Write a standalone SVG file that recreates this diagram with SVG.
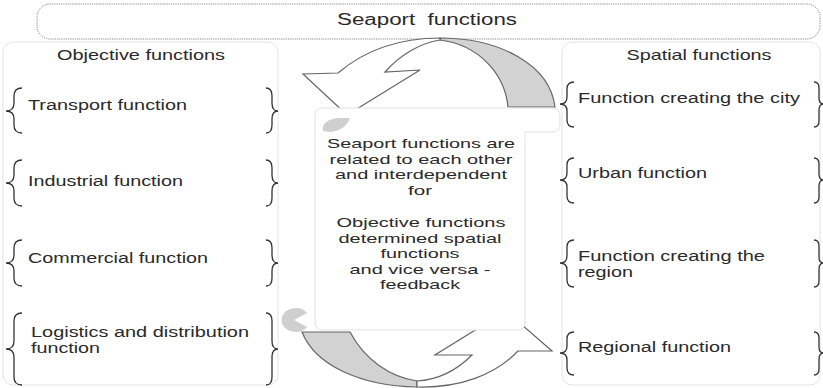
<svg xmlns="http://www.w3.org/2000/svg" width="823" height="388" viewBox="0 0 823 388">
<style>
text{font-family:"Liberation Sans",Arial,sans-serif;fill:#2a2a2a;}
.t16{font-size:16px;}
.t15{font-size:15px;}
.it{font-size:13.8px;}
.ct{font-size:13.2px;text-anchor:middle;}
.mid{text-anchor:middle;}
.br{fill:none;stroke:#333;stroke-width:1.3;}
.panel{fill:#fff;stroke:#e4e4e4;stroke-width:1;}
.arw{stroke:#666;stroke-width:1.2;stroke-linejoin:miter;}
.white{fill:#fff;}
.gray{fill:#d2d2d2;}
</style>
<rect width="823" height="388" fill="#fff"/>

<g id="top">
<rect x="37" y="4" width="783" height="35" rx="13" fill="#fff" stroke="#8a8a8a" stroke-width="1" stroke-dasharray="1.2,1"/>
<text class="t16 mid" x="427" y="25" textLength="180" lengthAdjust="spacingAndGlyphs" style="white-space:pre">Seaport  functions</text>
</g>

<g id="objective">
<rect class="panel" x="3" y="42" width="275" height="343" rx="10"/>
<text class="t15 mid" x="141" y="60" textLength="168" lengthAdjust="spacingAndGlyphs">Objective functions</text>
</g>

<g id="spatial">
<rect class="panel" x="562" y="42" width="258" height="343" rx="10"/>
<text class="t15 mid" x="699" y="60" textLength="145" lengthAdjust="spacingAndGlyphs">Spatial functions</text>
</g>

<g id="connectors">
<path class="arw gray" d="M440,38 C500,38 550,65 555,107 L508,107 C505,75 480,45 440,40 Z"/>
<path class="arw white" d="M440,38 C400,38 365,50 338,73 L303,74 L347,115 L420,70 L385,72 C400,55 420,43 440,40 Z"/>
<path class="arw gray" d="M302,332 C315,365 360,386 417,387 L417,381 C390,377 365,360 350,332 Z"/>
<path class="arw white" d="M506,311 L435,355 L472,355 C455,372 435,380 417,381 L417,387 C460,388 495,375 518,351 L552,351 Z"/>
</g>

<g id="center">
<path d="M294,320 L307,313 A14 12 0 1 0 307,327 Z" fill="#cfcfcf"/>
<path d="M323,108 H552 Q560,108 560,116 V124 Q560,132 552,132 H525 V322 Q525,330 517,330 H323 Q315,330 315,322 V116 Q315,108 323,108 Z" fill="#fff" stroke="#e2e2e2" stroke-width="1"/>
<path d="M323,131 C321,123 330,118 340,118 L350,118 C347,126 340,131 330,132 Z" fill="#cfcfcf"/>
<text class="ct" x="421" y="148" textLength="188" lengthAdjust="spacingAndGlyphs">Seaport functions are</text>
<text class="ct" x="421" y="163.5" textLength="183" lengthAdjust="spacingAndGlyphs">related to each other</text>
<text class="ct" x="421" y="179" textLength="172" lengthAdjust="spacingAndGlyphs">and interdependent</text>
<text class="ct" x="420" y="194.5" textLength="24" lengthAdjust="spacingAndGlyphs">for</text>
<text class="ct" x="421" y="227" textLength="169" lengthAdjust="spacingAndGlyphs">Objective functions</text>
<text class="ct" x="420" y="242.5" textLength="163" lengthAdjust="spacingAndGlyphs">determined spatial</text>
<text class="ct" x="420" y="258" textLength="79" lengthAdjust="spacingAndGlyphs">functions</text>
<text class="ct" x="420" y="273.5" textLength="141" lengthAdjust="spacingAndGlyphs">and vice versa -</text>
<text class="ct" x="420" y="289" textLength="80" lengthAdjust="spacingAndGlyphs">feedback</text>
</g>

<g id="transport">
<path class="br" d="M22,88 Q14,88 14,96 V103 Q14,111 6,111 Q14,111 14,119 V125 Q14,133 22,133"/>
<path class="br" d="M266,88 Q272,88 272,96 V103 Q272,111 278,111 Q272,111 272,119 V125 Q272,133 266,133"/>
<text class="it" x="28" y="110" textLength="159" lengthAdjust="spacingAndGlyphs">Transport function</text>
</g>
<g id="industrial">
<path class="br" d="M22,160 Q14,160 14,168 V175 Q14,183 6,183 Q14,183 14,191 V198 Q14,206 22,206"/>
<path class="br" d="M266,160 Q272,160 272,168 V175 Q272,183 278,183 Q272,183 272,191 V198 Q272,206 266,206"/>
<text class="it" x="28" y="186" textLength="155" lengthAdjust="spacingAndGlyphs">Industrial function</text>
</g>
<g id="commercial">
<path class="br" d="M22,240 Q14,240 14,248 V255 Q14,263 6,263 Q14,263 14,271 V278 Q14,286 22,286"/>
<path class="br" d="M266,240 Q272,240 272,248 V255 Q272,263 278,263 Q272,263 272,271 V278 Q272,286 266,286"/>
<text class="it" x="28" y="263" textLength="180" lengthAdjust="spacingAndGlyphs">Commercial function</text>
</g>
<g id="logistics">
<path class="br" d="M22,313 Q14,313 14,321 V341 Q14,349 6,349 Q14,349 14,357 V377 Q14,385 22,385"/>
<path class="br" d="M266,313 Q272,313 272,321 V341 Q272,349 278,349 Q272,349 272,357 V377 Q272,385 266,385"/>
<text class="it" x="31" y="337" textLength="218" lengthAdjust="spacingAndGlyphs">Logistics and distribution</text>
<text class="it" x="31" y="353" textLength="69" lengthAdjust="spacingAndGlyphs">function</text>
</g>

<g id="city">
<path class="br" d="M574,82 Q567,82 567,89 V97 Q567,104 560,104 Q567,104 567,111 V120 Q567,127 574,127"/>
<path class="br" d="M814,82 Q819,82 819,88 V98 Q819,104 824,104 Q819,104 819,110 V121 Q819,127 814,127"/>
<text class="it" x="578" y="103" textLength="222" lengthAdjust="spacingAndGlyphs">Function creating the city</text>
</g>
<g id="urban">
<path class="br" d="M574,158 Q567,158 567,165 V173 Q567,180 560,180 Q567,180 567,187 V196 Q567,203 574,203"/>
<path class="br" d="M814,158 Q819,158 819,164 V174 Q819,180 824,180 Q819,180 819,186 V197 Q819,203 814,203"/>
<text class="it" x="578" y="178" textLength="129" lengthAdjust="spacingAndGlyphs">Urban function</text>
</g>
<g id="region">
<path class="br" d="M574,240 Q567,240 567,247 V256 Q567,263 560,263 Q567,263 567,270 V280 Q567,287 574,287"/>
<path class="br" d="M814,240 Q819,240 819,246 V257 Q819,263 824,263 Q819,263 819,269 V281 Q819,287 814,287"/>
<text class="it" x="578" y="261" textLength="187" lengthAdjust="spacingAndGlyphs">Function creating the</text>
<text class="it" x="578" y="277" textLength="55" lengthAdjust="spacingAndGlyphs">region</text>
</g>
<g id="regional">
<path class="br" d="M574,332 Q567,332 567,339 V346 Q567,353 560,353 Q567,353 567,360 V368 Q567,375 574,375"/>
<path class="br" d="M814,332 Q819,332 819,338 V347 Q819,353 824,353 Q819,353 819,359 V369 Q819,375 814,375"/>
<text class="it" x="578" y="352" textLength="153" lengthAdjust="spacingAndGlyphs">Regional function</text>
</g>
</svg>
